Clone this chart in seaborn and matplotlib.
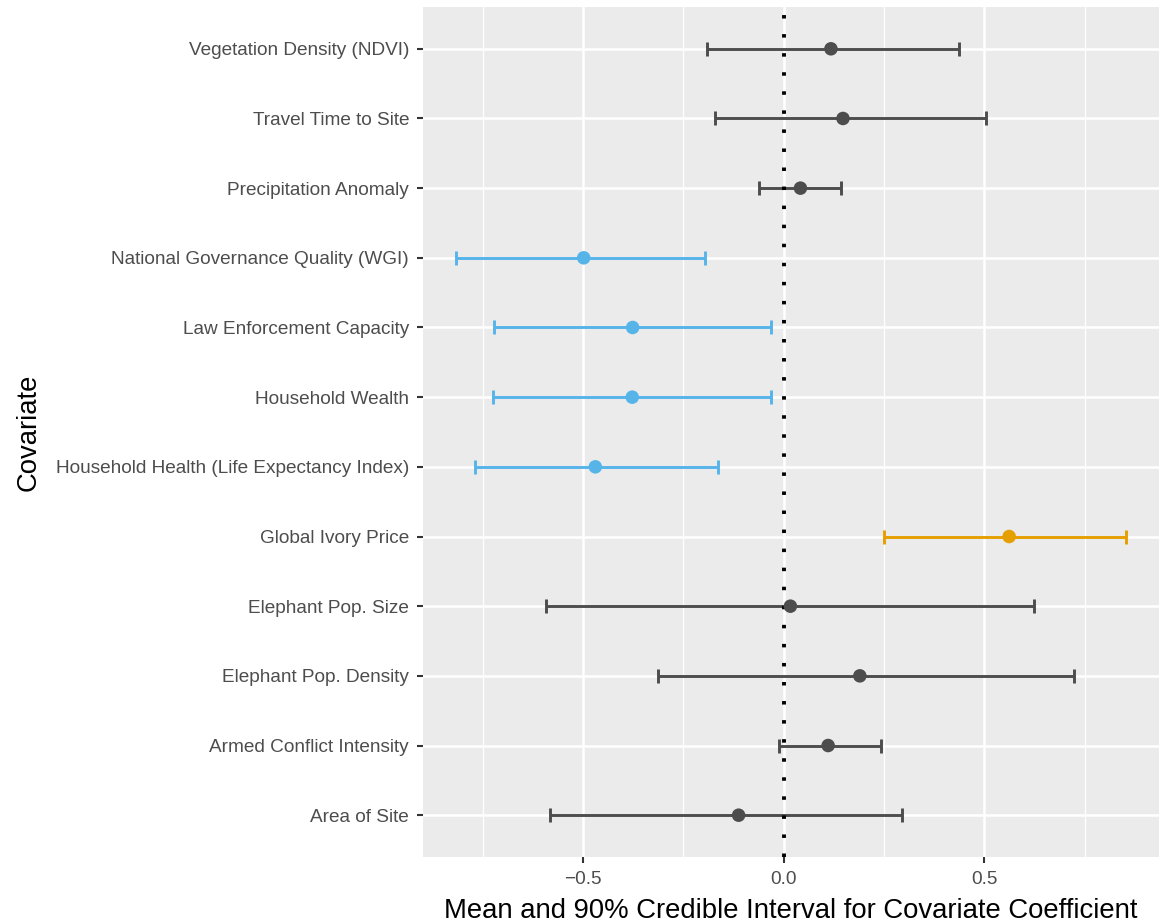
import matplotlib
matplotlib.use("Agg")
import matplotlib.pyplot as plt
import seaborn as sns
import pandas as pd
from matplotlib.ticker import MultipleLocator

# data, listed from bottom row to top row
covariates = ['Area of Site', 'Armed Conflict Intensity', 'Elephant Pop. Density',
              'Elephant Pop. Size', 'Global Ivory Price',
              'Household Health (Life Expectancy Index)', 'Household Wealth',
              'Law Enforcement Capacity', 'National Governance Quality (WGI)',
              'Precipitation Anomaly', 'Travel Time to Site', 'Vegetation Density (NDVI)']
means = [-0.112, 0.111, 0.190, 0.017, 0.562, -0.469, -0.377, -0.376, -0.498, 0.042, 0.148, 0.118]
lower = [-0.581, -0.011, -0.313, -0.593, 0.249, -0.769, -0.724, -0.721, -0.815, -0.060, -0.170, -0.191]
upper = [0.294, 0.242, 0.723, 0.624, 0.852, -0.163, -0.032, -0.031, -0.195, 0.144, 0.505, 0.436]
groups = ['none', 'none', 'none', 'none', 'positive', 'negative', 'negative', 'negative',
          'negative', 'none', 'none', 'none']

palette = {'none': '#4D4D4D', 'negative': '#56B4E9', 'positive': '#E69F00'}

df = pd.DataFrame({'covariate': covariates, 'mean': means, 'lower': lower,
                   'upper': upper, 'group': groups})

sns.set_theme(style='darkgrid', rc={
    'axes.facecolor': '#EBEBEB', 'grid.color': 'white',
    'axes.edgecolor': 'none', 'xtick.bottom': True, 'ytick.left': True,
})
plt.rcParams['font.family'] = ['Liberation Sans', 'DejaVu Sans']

fig = plt.figure(figsize=(11.59, 9.24), dpi=100)
ax = fig.add_axes([423 / 1159, 1 - 857 / 924, 1 - 423 / 1159, 850 / 924])

# points first so the category order follows the data order
sns.scatterplot(data=df, x='mean', y='covariate', hue='group', palette=palette,
                s=95, edgecolor='none', legend=False, ax=ax, zorder=4)

for g, sub in df.groupby('group'):
    ax.errorbar(sub['mean'], sub['covariate'],
                xerr=[sub['mean'] - sub['lower'], sub['upper'] - sub['mean']],
                fmt='none', ecolor=palette[g], elinewidth=2.1, capsize=4.7,
                capthick=2.1, zorder=2)

ax.axvline(0, color='black', linewidth=2.8, linestyle=(0, (0.9, 4.0)), zorder=3)

span = max(upper) - min(lower)
ax.set_xlim(min(lower) - 0.05 * span, max(upper) + 0.05 * span)
ax.set_ylim(-0.6, len(covariates) - 0.4)

ax.xaxis.set_minor_locator(MultipleLocator(0.25))
ax.set_xticks([-0.5, 0.0, 0.5])
ax.set_xticklabels(['\u22120.5', '0.0', '0.5'])
ax.grid(which='major', color='white', linewidth=1.8)
ax.grid(which='minor', axis='x', color='white', linewidth=0.9)
ax.tick_params(axis='both', which='major', length=4, width=1.5, color='#333333',
               labelsize=13.7, labelcolor='#4D4D4D', pad=6)
ax.tick_params(axis='x', which='minor', length=0)

ax.set_xlabel('Mean and 90% Credible Interval for Covariate Coefficient',
              fontsize=19.8, color='black', labelpad=7)
ax.set_ylabel('Covariate', fontsize=19.8, color='black', labelpad=10)

fig.savefig('out.png', dpi=100)
